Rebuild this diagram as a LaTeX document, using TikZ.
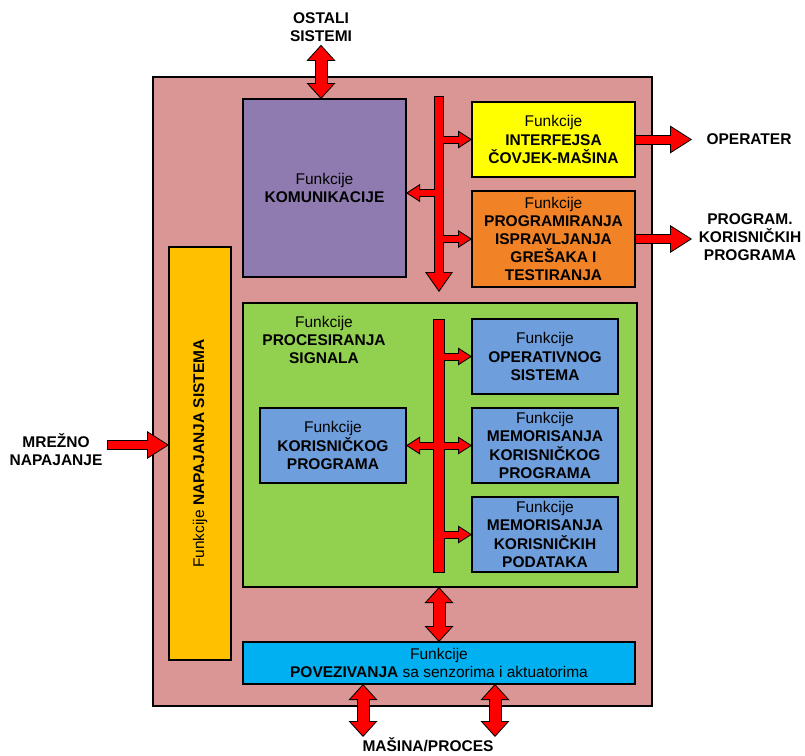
\documentclass[tikz,border=0pt]{standalone}
\usepackage{fontspec}
\setmainfont{Liberation Sans}
\usetikzlibrary{arrows.meta}

\definecolor{sysc}{HTML}{D99694}
\definecolor{komc}{HTML}{8F7BB0}
\definecolor{hmic}{HTML}{FFFF00}
\definecolor{progc}{HTML}{F18226}
\definecolor{procc}{HTML}{92D050}
\definecolor{plavac}{HTML}{6E9EDB}
\definecolor{napajc}{HTML}{FFC000}
\definecolor{povezc}{HTML}{00B0F0}

\newcommand\velik{\fontsize{15.5}{18.2}\selectfont}

\tikzset{
  box/.style={draw, line width=1.5pt, inner sep=2pt, outer sep=0pt, align=center, font=\velik},
  txt/.style={align=center, inner sep=0pt, font=\velik},
  lbl/.style={align=center, inner sep=0pt, font=\velik\bfseries},
  busbar/.style={draw, fill=red, line width=1pt, inner sep=0pt, outer sep=0pt},
  % red arrows with black outline: black pass, then red pass on top
  bigarr/.style={draw=black, line width=10pt,
    arrows={-Triangle[width=28pt,length=22pt,line width=0pt]},
    postaction={draw=red, line width=8pt, shorten <=1pt, shorten >=1.86pt,
      arrows={-Triangle[width=24.3pt,length=19.1pt,line width=0pt]}}},
  smallarr/.style={draw=black, line width=8pt,
    arrows={-Triangle[width=18pt,length=14pt,line width=0pt]},
    postaction={draw=red, line width=6pt, shorten >=1.85pt,
      arrows={-Triangle[width=14.3pt,length=11.15pt,line width=0pt]}}},
  dblarr/.style={draw=black, line width=13pt,
    arrows={Triangle[width=29pt,length=16pt,line width=0pt]-Triangle[width=29pt,length=16pt,line width=0pt]},
    postaction={draw=red, line width=11pt, shorten <=1.5pt, shorten >=1.5pt,
      arrows={Triangle[width=24.5pt,length=13.5pt,line width=0pt]-Triangle[width=24.5pt,length=13.5pt,line width=0pt]}}},
  busarr/.style={draw=black, line width=10pt,
    arrows={-Triangle[width=28pt,length=20pt,line width=0pt]},
    postaction={draw=red, line width=8pt, shorten <=1pt, shorten >=1.74pt,
      arrows={-Triangle[width=24.2pt,length=17.3pt,line width=0pt]}}},
}

\begin{document}
\begin{tikzpicture}[x=1pt, y=-1pt]
  \useasboundingbox (0,0) rectangle (805,755);

  \node[box, fill=sysc, minimum width=499pt, minimum height=629pt] (sys) at (402.5,391.5) {};

  \node[box, fill=komc, minimum width=163pt, minimum height=178pt] (kom) at (324.5,188) {Funkcije\\\textbf{KOMUNIKACIJE}};
  \node[box, fill=hmic, minimum width=163pt, minimum height=75pt] (hmi) at (553.5,139.5) {Funkcije\\\textbf{INTERFEJSA}\\\textbf{ČOVJEK-MAŠINA}};
  \node[box, fill=progc, minimum width=163pt, minimum height=96pt] (prog) at (553.5,239) {Funkcije\\\textbf{PROGRAMIRANJA}\\\textbf{ISPRAVLJANJA}\\\textbf{GREŠAKA I}\\\textbf{TESTIRANJA}};

  \node[box, fill=procc, minimum width=394pt, minimum height=284pt] (proc) at (440,445) {};
  \node[txt] (proct) at (324,340) {Funkcije\\\textbf{PROCESIRANJA}\\\textbf{SIGNALA}};
  \node[box, fill=plavac, minimum width=146pt, minimum height=75pt] (os) at (545,356.5) {Funkcije\\\textbf{OPERATIVNOG}\\\textbf{SISTEMA}};
  \node[box, fill=plavac, minimum width=146pt, minimum height=75pt] (memprog) at (545,445.5) {Funkcije\\\textbf{MEMORISANJA}\\\textbf{KORISNIČKOG}\\\textbf{PROGRAMA}};
  \node[box, fill=plavac, minimum width=146pt, minimum height=75pt] (memdata) at (545,534.5) {Funkcije\\\textbf{MEMORISANJA}\\\textbf{KORISNIČKIH}\\\textbf{PODATAKA}};
  \node[box, fill=plavac, minimum width=146pt, minimum height=75pt] (korprog) at (333,445.5) {Funkcije\\\textbf{KORISNIČKOG}\\\textbf{PROGRAMA}};

  \node[box, fill=napajc, minimum width=62pt, minimum height=413pt] (napaj) at (200,453.5) {};
  \node[txt, rotate=90] (napajt) at (napaj) {Funkcije \textbf{NAPAJANJA SISTEMA}};
  \node[box, fill=povezc, minimum width=392pt, minimum height=42pt] (povez) at (439,663) {Funkcije\\\textbf{POVEZIVANJA} sa senzorima i aktuatorima};

  % buses
  \coordinate (bustop) at (439,96);
  \coordinate (busend) at (439,292);
  \draw[busarr] (bustop) -- (busend);
  \node[busbar, minimum width=11pt, minimum height=253pt] (bus) at (439,445.5) {};

  \coordinate (b1l) at (435,193);
  \coordinate (b1r) at (443,193);
  \draw[smallarr] (b1r |- hmi.west) -- (hmi.west);
  \draw[smallarr] (b1r |- prog.west) -- (prog.west);
  \draw[smallarr] (b1l) -- (b1l -| kom.east);

  \coordinate (b2l) at (434,0);
  \coordinate (b2r) at (444,0);
  \draw[smallarr] (b2r |- os.west) -- (os.west);
  \draw[smallarr] (b2r |- memprog.west) -- (memprog.west);
  \draw[smallarr] (b2r |- memdata.west) -- (memdata.west);
  \draw[smallarr] (b2l |- korprog.east) -- (korprog.east);

  \draw[dblarr] (bus |- proc.south) -- (bus |- povez.north);

  % outside
  \node[lbl] (ostali) at (321,27) {OSTALI\\SISTEMI};
  \draw[dblarr] ([yshift=-3pt]ostali.south) -- (ostali.south |- kom.north);

  \node[lbl] (oper) at (749,139) {OPERATER};
  \node[lbl] (korprg) at (750,237) {PROGRAM.\\KORISNIČKIH\\PROGRAMA};
  \coordinate (desno) at (692,0);
  \draw[bigarr] (hmi.east) -- (hmi.east -| desno);
  \draw[bigarr] (prog.east) -- (prog.east -| desno);

  \node[lbl] (mrezno) at (56,450) {MREŽNO\\NAPAJANJE};
  \coordinate (mrez) at (107,445);
  \draw[bigarr] (mrez) -- (mrez -| napaj.west);

  \node[lbl] (masina) at (428,745) {MAŠINA/PROCES};
  \coordinate (p1) at (363,737);
  \coordinate (p2) at (495,737);
  \draw[dblarr] (p1 |- povez.south) -- (p1);
  \draw[dblarr] (p2 |- povez.south) -- (p2);
\end{tikzpicture}
\end{document}
